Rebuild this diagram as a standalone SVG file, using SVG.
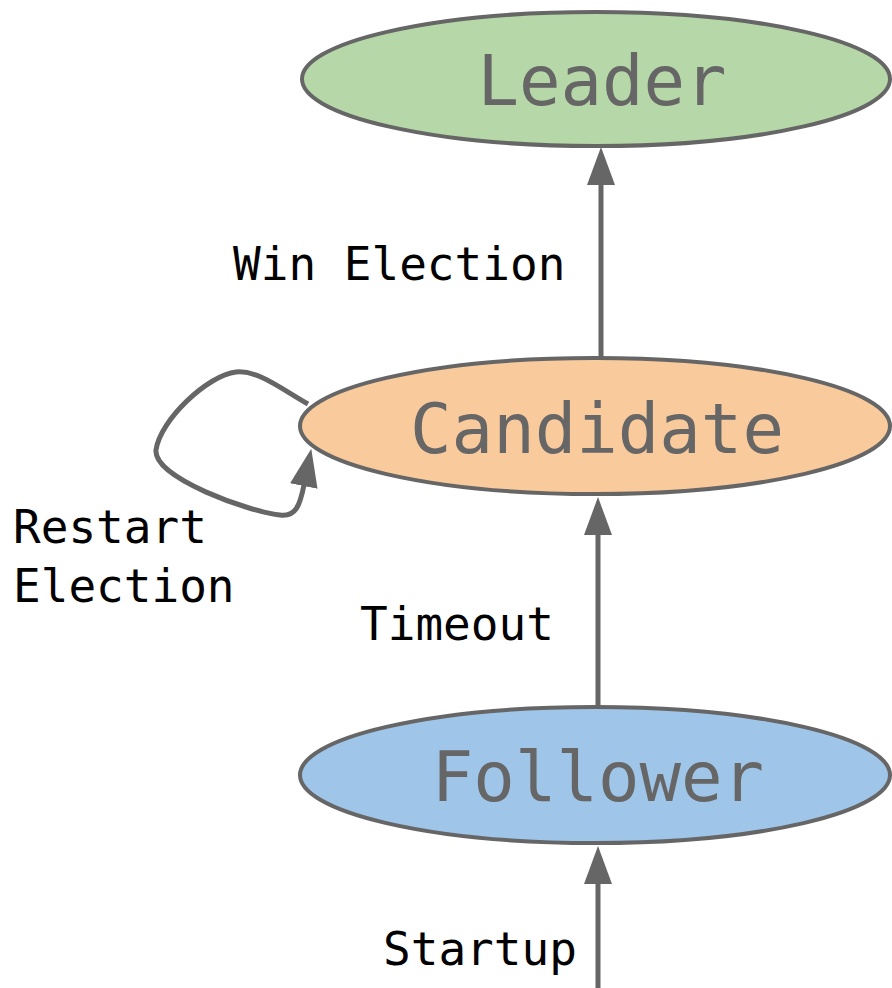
<svg xmlns="http://www.w3.org/2000/svg" width="892" height="988" viewBox="0 0 892 988">
<defs>
<style>
.node ellipse{stroke:#666;stroke-width:4}
.ntext{font-family:"DejaVu Sans Mono","Liberation Mono",monospace;font-size:69px;fill:#666;text-anchor:middle}
.label{font-family:"DejaVu Sans Mono","Liberation Mono",monospace;font-size:46px;fill:#000}
.edge{fill:none;stroke:#666;stroke-width:5}
</style>
<marker id="ah" markerUnits="userSpaceOnUse" markerWidth="40" markerHeight="30" refX="1" refY="14" orient="auto">
<path d="M0,0 L38,14 L0,28 z" fill="#666"/>
</marker>
</defs>
<rect width="892" height="988" fill="#fff"/>
<g id="connectors">
<path class="edge" d="M601,357 L601,184" marker-end="url(#ah)"/>
<path class="edge" d="M598,706 L598,534" marker-end="url(#ah)"/>
<path class="edge" d="M598,988 L598,883" marker-end="url(#ah)"/>
<path class="edge" d="M308,404 C 280,388 258,370 236,372 C 208,375 160,420 156,450 C 153,478 250,512 280,515 C 296,517 300,505 304,485" marker-end="url(#ah)"/>
</g>
<g id="leader" class="node">
<ellipse cx="596" cy="79" rx="294" ry="67" fill="#b6d7a8"/>
<text class="ntext" x="602" y="105">Leader</text>
</g>
<g id="candidate" class="node">
<ellipse cx="595" cy="426" rx="295" ry="68" fill="#f9cb9c"/>
<text class="ntext" x="597" y="453">Candidate</text>
</g>
<g id="follower" class="node">
<ellipse cx="595" cy="775" rx="295" ry="68" fill="#9fc5e8"/>
<text class="ntext" x="598" y="801">Follower</text>
</g>
<g id="labels">
<text class="label" x="233" y="280">Win Election</text>
<text class="label" x="360" y="640">Timeout</text>
<text class="label" x="13" y="543">Restart</text>
<text class="label" x="13" y="602">Election</text>
<text class="label" x="383" y="965">Startup</text>
</g>
</svg>
